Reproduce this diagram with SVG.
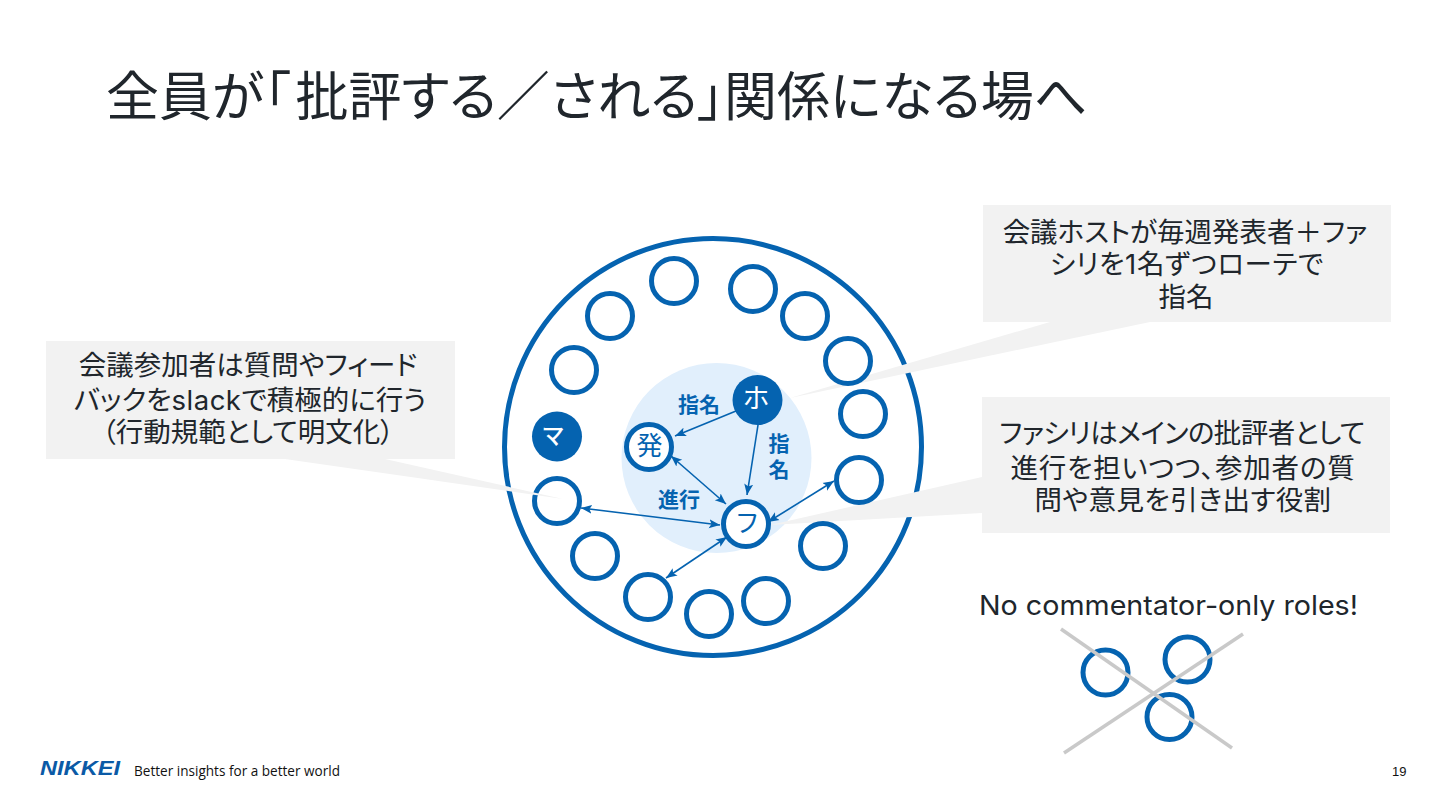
<svg xmlns="http://www.w3.org/2000/svg" width="1440" height="810" viewBox="0 0 1440 810">
<style>
.jp{font-family:"Noto Sans CJK JP","Noto Sans",sans-serif;font-feature-settings:"palt"}
.t{font-size:27.500px;fill:#20262c;text-anchor:middle}
.lat{font-family:Inter,"Open Sans",sans-serif}
.lb{font-size:21px;font-weight:700;fill:#0563b0;text-anchor:middle}
.c{fill:#fff;stroke:#0563b0;stroke-width:5}
.f{fill:#0563b0}
.ar{stroke:#0563b0;stroke-width:1.6;fill:none;marker-end:url(#a)}
.br{stroke:#0563b0;stroke-width:1.6;fill:none;marker-end:url(#a);marker-start:url(#s)}
.box{fill:#f2f2f2}
.x{stroke:#c9c9c9;stroke-width:3.5}
</style>
<defs>
<marker id="a" markerUnits="userSpaceOnUse" markerWidth="12" markerHeight="10" refX="11" refY="5" orient="auto"><path d="M0,0.5L11,5L0,9.5L2.5,5Z" fill="#0563b0"/></marker>
<marker id="s" markerUnits="userSpaceOnUse" markerWidth="12" markerHeight="10" refX="1" refY="5" orient="auto"><path d="M12,0.5L1,5L12,9.5L9.5,5Z" fill="#0563b0"/></marker>
</defs>
<rect width="1440" height="810" fill="#fff"/>
<text id="title" class="jp" x="106" y="115.500" font-size="53" fill="#20262c">全員が「<tspan dx="5">批評する／される」関係になる場へ</tspan></text>
<g id="ring"><circle cx="713" cy="447" r="208.500" fill="#fff" stroke="#0563b0" stroke-width="5"/><circle cx="716.500" cy="458" r="95" fill="#e1effc"/></g>
<g id="wedges" fill="#f2f2f2">
<polygon points="1050,322 1150,322 790,398"/>
<polygon points="982,477 982,513 770,525"/>
</g>
<g id="seats">
<circle class="c" cx="674" cy="281" r="22.500"/><circle class="c" cx="753" cy="289" r="22.500"/><circle class="c" cx="610" cy="316" r="22.500"/><circle class="c" cx="805" cy="316" r="22.500"/><circle class="c" cx="848" cy="361" r="22.500"/><circle class="c" cx="574" cy="370" r="22.500"/><circle class="c" cx="863" cy="414" r="22.500"/><circle class="c" cx="859" cy="480" r="22.500"/><circle class="c" cx="557" cy="501" r="22.500"/><circle class="c" cx="823" cy="546" r="22.500"/><circle class="c" cx="595" cy="556" r="22.500"/><circle class="c" cx="648" cy="597" r="22.500"/><circle class="c" cx="766" cy="601" r="22.500"/><circle class="c" cx="709" cy="614" r="22.500"/>
</g>
<polygon id="wedge-left" points="285,459 385,459 563,499" fill="#f2f2f2"/>
<g id="node-ma"><circle class="f" cx="557" cy="436.500" r="25"/><text class="jp" x="553" y="444" font-size="23" font-weight="500" fill="#fff" text-anchor="middle">マ</text></g>
<g id="node-ho"><circle class="f" cx="757.500" cy="400" r="25"/><text class="jp" x="756" y="408" font-size="27" fill="#fff" text-anchor="middle">ホ</text></g>
<g id="node-hatsu"><circle class="c" cx="649" cy="447" r="22.500"/><text class="jp" x="649.500" y="455" font-size="26" fill="#0563b0" text-anchor="middle">発</text></g>
<g id="node-fu"><circle class="c" cx="746" cy="524" r="22.500"/><text class="jp" x="747" y="532" font-size="25" fill="#0563b0" text-anchor="middle">フ</text></g>
<g id="connectors">
<line class="ar" x1="736" y1="411" x2="675" y2="436"/>
<line class="ar" x1="758" y1="425" x2="747" y2="495"/>
<line class="br" x1="671" y1="456" x2="726" y2="504"/>
<line class="br" x1="581" y1="508" x2="720" y2="525"/>
<line class="br" x1="768" y1="522" x2="834" y2="481"/>
<line class="br" x1="727" y1="537" x2="666" y2="578"/>
</g>
<g id="labels" class="jp">
<text class="lb" x="699" y="412">指名</text>
<text class="lb" x="779" y="433" style="writing-mode:vertical-rl;text-anchor:start;letter-spacing:5px">指名</text>
<text class="lb" x="679" y="507">進行</text>
</g>
<g id="note-left" class="jp"><rect class="box" x="46" y="341" width="409" height="118"/>
<text class="t" x="248" y="375">会議参加者は質問やフィード</text><text class="t" x="250" y="410">バックを<tspan class="lat" letter-spacing="0.5">slack</tspan>で積極的に行う</text><text class="t" x="248" y="442">（行動規範として明文化）</text></g>
<g id="note-host" class="jp"><rect class="box" x="983" y="205" width="408" height="117"/>
<text class="t" x="1185" y="242">会議ホストが毎週発表者＋ファ</text><text class="t" x="1187" y="274" letter-spacing="0.6">シリを<tspan class="lat">1</tspan>名ずつローテで</text><text class="t" x="1186" y="307">指名</text></g>
<g id="note-fac" class="jp"><rect class="box" x="982" y="397" width="408" height="136"/>
<text class="t" x="1182" y="443" letter-spacing="-0.6">ファシリはメインの批評者として</text><text class="t" x="1183" y="478" letter-spacing="0.8">進行を担いつつ、参加者の質</text><text class="t" x="1183" y="510" letter-spacing="0.4">問や意見を引き出す役割</text></g>
<g id="no-comm">
<text x="979" y="615" font-family="Inter,'Open Sans',sans-serif" font-size="27" fill="#20262c" textLength="379" lengthAdjust="spacingAndGlyphs">No commentator-only roles!</text>
<circle class="c" cx="1105.500" cy="672.500" r="22.500"/><circle class="c" cx="1187.500" cy="659.500" r="22.500"/><circle class="c" cx="1169.500" cy="717" r="22.500"/>
<line class="x" x1="1061" y1="629" x2="1232" y2="748"/><line class="x" x1="1243" y1="634" x2="1064" y2="753"/>
</g>
<g id="footer">
<text x="40" y="775" font-family="'Liberation Sans',sans-serif" font-size="20" font-weight="700" font-style="italic" fill="#0b5aa6" textLength="80" lengthAdjust="spacingAndGlyphs">NIKKEI</text>
<text x="134" y="776" font-family="'Open Sans',sans-serif" font-size="14" fill="#111" textLength="206" lengthAdjust="spacingAndGlyphs">Better insights for a better world</text>
<text x="1392" y="776" font-family="'Liberation Sans',sans-serif" font-size="13" fill="#111">19</text>
</g>
</svg>
